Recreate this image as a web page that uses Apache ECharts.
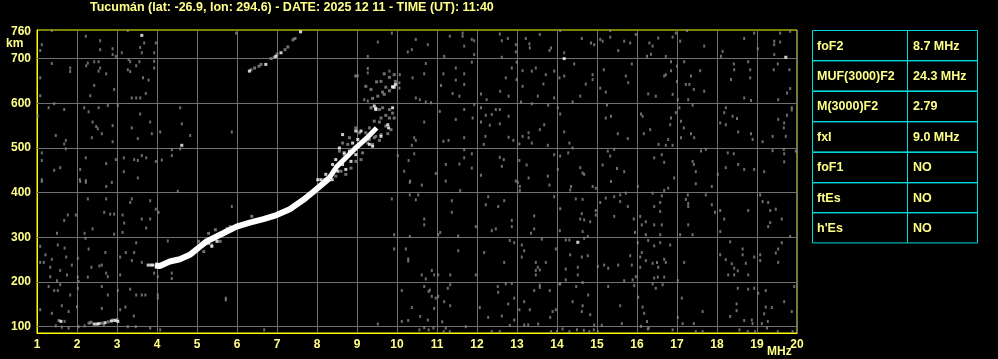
<!DOCTYPE html>
<html><head><meta charset="utf-8">
<script src="https://cdn.jsdelivr.net/npm/echarts@6/dist/echarts.min.js"></script>
<style>html,body{margin:0;padding:0;background:#000}#c{width:998px;height:359px}</style>
</head><body><div id="c"></div>
<script>
const titleText = 'Tucumán (lat: -26.9, lon: 294.6) - DATE: 2025 12 11 - TIME (UT): 11:40';
const yTickLabels = [100, 200, 300, 400, 500, 600, 700, 760];
const kmGridLines = [100, 200, 300, 400, 500, 600, 700];
const tableLabels = ['foF2', 'MUF(3000)F2', 'M(3000)F2', 'fxI', 'foF1', 'ftEs', "h'Es"];
const tableValues = ['8.7 MHz', '24.3 MHz', '2.79', '9.0 MHz', 'NO', 'NO', 'NO'];

// F-layer trace (solid band), then the spread upper part
const mainTrace = [[3.95,237],[4.07,236],[4.32,246],[4.57,251],[4.82,261],[5.07,279],[5.24,291],[5.49,302],[5.74,313],[5.99,324],[6.32,333],[6.66,341],[6.99,350],[7.32,363],[7.66,384],[7.91,402],[8.16,421],[8.3,432]];
const upperTrace = [[8.3,432],[8.49,458],[8.74,480],[8.99,502],[9.24,522],[9.49,545]];

// bright echoes
const traceWhite = [[9.43,594],[9.47,586],[9.89,590],[9.77,552],[9.79,545],[9.6,526],[9.31,508],[9.39,504],[9.02,519],[8.89,511],[9.1,538],[8.97,538],[8.64,530],[8.68,489],[8.56,500],[8.81,493],[8.97,485],[8.85,470],[8.64,463],[8.47,474],[8.39,463],[8.72,452],[8.52,448],[8.31,437],[8.22,441],[9.93,636],[9.96,642],[9.89,637],[9.47,589],
[6.31,672],[6.72,687],[7.1,713],[7.59,760],[6.97,705],
[2.43,106],[2.5,106],[2.55,107],[2.7,109],[2.86,113],[2.95,114],[3.02,112],[1.6,112],
[3.78,238],[3.85,238],[3.9,238],
[3.62,752],[4.62,506],[14.18,700],[19.72,703],[14.52,289],
[5.29,287],[5.37,280],[5.5,291],
[8.02,429],[8.1,429],[8.2,429],[8.3,429],[8.38,429]];

// weaker echoes around the traces
const traceGray = [[8.97,661],[9.22,638],[9.35,631],[9.49,648],[9.6,649],[9.68,666],[9.81,658],[9.93,664],[9.96,649],[9.72,636],[9.64,625],[9.52,616],[9.39,611],[9.68,620],[9.81,628],[9.89,636],[9.35,590],[9.56,586],[9.64,590],[9.81,586],[9.89,578],[9.72,573],[9.6,567],[9.81,567],[9.93,567],[9.43,560],[9.56,558],[9.72,549],[9.85,541],[9.6,530],[9.77,532],[9.31,545],[9.22,534],[9.43,523],[9.56,517],[8.97,545],[9.06,534],[8.81,523],[8.77,508],[8.64,511],[8.93,500],[9.14,489],[9.1,474],[8.97,470],[8.85,455],[8.72,441],[8.6,448],[8.47,437],[8.68,485],[8.56,493],[9.27,511],[9.39,508],[9.47,526],[9.31,519],
[5.04,291],[5.29,309],[5.46,317],[5.62,309],[5.75,320],[5.83,324],[5.17,268],[5.37,283],[5.58,291],[4.96,272],[6.37,347],[4.54,250],[4.87,265],
[6.44,679],[6.6,687],[6.85,700],[7.0,710],[7.27,726],[7.4,742],[7.45,745],[6.35,675],[6.55,683],[6.93,703],[7.2,720],
[2.35,110],[2.62,108],[2.78,111],[2.9,115],[3.0,116],[2.3,108],[1.55,114]];

// background noise
const noise = [[1.37,763],[1.12,731],[1.08,718],[2.22,750],[2.58,740],[2.58,720],[2.89,722],[2.89,709],[3.12,713],[3.27,763],[3.68,735],[3.97,735],[3.58,725],[3.62,713],[3.93,713],[2.97,705],[1.37,689],[1.83,679],[1.83,671],[2.27,690],[2.43,693],[2.54,693],[2.23,684],[2.58,679],[2.54,672],[2.73,666],[3.29,698],[3.33,693],[3.56,693],[3.48,684],[3.27,675],[3.33,671],[3.93,694],[3.93,679],[3.65,657],[3.79,652],[1.08,657],[2.43,640],[2.93,631],[2.33,617],[1.08,617],[3.37,612],[3.48,612],[3.58,612],[3.72,622],[5.98,757],[1.29,590],[1.43,599],[1.68,586],[2.18,590],[2.29,581],[2.54,590],[2.77,595],[3.02,595],[1.02,571],[3.58,576],[2.39,558],[2.48,548],[2.52,543],[2.89,550],[3.37,545],[3.83,558],[2.62,532],[1.47,528],[1.72,517],[1.68,509],[2.37,523],[2.89,514],[3.52,521],[3.87,532],[4.08,536],[4.58,590],[4.62,554],[4.83,528],[5.87,536],[1.12,489],[1.12,472],[1.72,498],[2.22,478],[1.43,450],[1.58,456],[2.08,452],[2.73,465],[3.17,478],[2.97,474],[3.43,474],[3.52,472],[3.62,483],[3.73,478],[3.97,470],[4.12,473],[4.37,496],[4.37,483],[4.58,498],[3.17,447],[3.52,433],[1.12,429],[2.07,429],[2.22,427],
[1.12,425],[2.08,425],[2.22,423],[2.73,414],[4.52,403],[2.27,386],[2.73,386],[3.37,386],[3.33,378],[3.83,382],[1.77,350],[1.68,338],[1.97,350],[2.68,356],[2.83,352],[2.93,352],[3.14,350],[3.18,332],[3.62,341],[3.83,341],[3.97,363],[4.04,356],[2.39,319],[2.19,309],[2.93,307],[3.14,311],[3.73,321],[3.48,288],[1.5,309],[2.21,298],[4.27,292],[1.08,280],[1.52,283],[1.69,276],[2.29,274],[2.71,266],[3.22,266],[3.43,266],[3.08,256],[1.21,261],[1.37,251],[1.08,244],[1.17,244],[1.33,233],[1.73,256],[2.02,253],[2.56,236],[2.62,238],[2.36,233],[1.58,226],[1.87,238],[3.37,248],[3.62,244],[2.73,220],[2.77,212],[3.08,216],[1.33,212],[1.5,203],[2.04,201],[2.02,211],[2.27,211],[1.75,216],[3.93,220],[4.02,212],[4.37,220],[4.37,208],[1.29,190],[1.43,181],[1.58,194],[1.52,181],[1.83,171],[2.02,186],[2.62,190],[2.77,171],[3.02,181],[3.33,184],[3.48,171],[3.62,171],[3.71,171],[4.02,171],[4.02,164],[1.08,138],[1.37,130],[1.62,147],[2.0,145],[1.79,134],[2.62,141],[3.08,138],[3.21,144],[3.42,124],[1.47,102],[1.62,99],[1.69,112],[1.79,97],[2.04,100],[2.19,102],[2.67,104],[3.27,100],[3.47,100],[3.83,97],[4.08,93],[5.72,164],[5.72,160],[5.87,369],[6.68,93],[2.87,423],
[9.87,757],[9.52,737],[10.47,743],[10.77,731],[10.27,715],[10.37,720],[11.32,750],[11.64,757],[11.64,750],[11.87,743],[11.93,740],[11.68,728],[11.93,709],[11.18,705],[9.27,705],[10.72,689],[11.87,692],[11.16,666],[11.47,679],[11.68,666],[10.68,666],[10.39,657],[11.47,652],[11.1,640],[11.68,642],[9.27,678],[9.27,668],[9.81,672],[9.02,662],[10.07,664],[11.39,622],[11.56,616],[10.47,612],[10.57,608],[10.72,603],[10.85,601],[9.27,605],[9.18,608],[10.06,646],[10.06,634],[11.07,582],[11.68,586],[11.47,564],[10.68,558],[11.89,567],[10.43,523],[10.47,517],[10.37,506],[11.68,523],[11.16,515],[11.29,517],[10.02,483],[10.29,472],[10.43,487],[11.68,496],[11.68,478],[11.22,463],[11.56,464],[11.87,487],[11.87,455],[10.97,443],[10.18,448],[10.33,426],[11.22,426],[12.57,755],[12.62,740],[12.77,745],[13.22,745],[13.31,733],[13.32,724],[13.57,754],[12.97,731],[12.97,715],[12.62,703],[12.87,679],[12.99,692],[13.14,673],[13.37,672],[13.47,679],[12.72,657],[12.99,653],[13.14,638],[12.58,627],[12.1,621],[12.24,608],[12.79,616],[13.1,603],[13.37,599],[13.52,616],[13.66,643],[12.47,586],[12.57,586],[12.22,573],[12.32,551],[12.37,575],[12.1,558],[12.57,554],[12.79,571],[12.21,526],[12.17,508],[12.79,524],[12.91,517],[13.06,509],[13.14,526],[13.29,534],[13.29,523],[13.37,511],[13.57,541],[13.68,552],[12.57,479],[12.67,474],[12.62,459],[13.06,472],[13.24,462],[13.29,433],[12.97,426],[12.1,590],[11.93,597],[12.1,439],
[14.08,763],[13.85,724],[13.81,718],[14.18,713],[14.62,745],[14.85,735],[14.93,731],[15.08,743],[15.14,739],[15.33,763],[15.33,748],[15.68,739],[15.83,735],[15.53,718],[15.97,754],[16.31,735],[16.39,728],[16.53,746],[16.89,748],[16.97,757],[17.08,739],[17.25,763],[17.68,728],[18.14,716],[18.1,705],[16.25,705],[16.35,710],[16.72,705],[18.68,745],[18.93,757],[19.02,722],[19.43,739],[19.43,731],[19.58,757],[19.58,737],[19.83,761],[19.43,709],[14.43,688],[13.72,664],[13.93,672],[14.06,657],[14.18,661],[14.89,664],[14.89,653],[14.72,643],[15.17,675],[15.08,634],[15.22,625],[15.72,661],[15.78,646],[15.87,688],[14.58,616],[14.39,603],[13.93,612],[16.68,661],[16.72,664],[16.85,693],[16.85,673],[17.0,683],[17.0,649],[16.47,616],[16.28,621],[16.89,620],[17.18,693],[17.35,661],[17.22,642],[17.31,642],[17.42,631],[17.58,673],[17.68,627],[17.02,608],[17.28,608],[18.42,688],[18.43,675],[18.35,653],[18.78,693],[18.83,675],[18.83,657],[18.68,612],[18.85,606],[19.52,688],[19.42,675],[19.81,675],[19.83,633],[19.75,623],[19.53,608],[13.78,596],[14.02,590],[14.08,576],[14.18,536],[14.31,511],[13.77,506],[14.39,500],[15.25,596],[15.35,571],[15.22,567],[15.52,532],[15.77,521],[16.17,532],[16.1,576],[16.14,571],[16.33,541],[16.85,567],[16.83,552],[16.78,519],[16.54,508],[16.72,506],[16.89,506],[17.06,590],[16.97,579],[17.1,560],[17.17,545],[17.35,532],[17.39,596],[17.43,523],[17.1,523],[18.08,556],[18.22,590],[18.18,579],[18.39,571],[18.5,566],[18.22,552],[18.53,536],[18.85,532],[18.89,519],[19.14,514],[19.39,526],[19.53,564],[19.68,556],[19.67,545],[19.72,526],[19.87,590],[19.87,585],[19.75,573],[13.93,485],[14.08,482],[14.28,489],[14.02,452],[13.77,437],[14.58,456],[14.68,441],[14.64,444],[15.14,462],[15.27,493],[15.33,482],[15.43,497],[15.5,454],[15.68,447],[16.43,478],[16.62,485],[16.68,468],[16.93,433],[17.47,447],[17.39,470],[17.42,463],[17.6,493],[17.72,497],[18.02,441],[18.22,456],[18.27,489],[18.42,487],[18.53,463],[18.68,452],[18.93,452],[19.18,447],[19.39,494],[19.67,497],[19.68,487],[19.68,469],[19.97,493],
[13.81,417],[14.35,414],[14.33,406],[14.89,414],[14.97,410],[15.35,425],[15.72,399],[15.58,395],[15.43,391],[15.22,388],[15.08,378],[15.58,380],[16.02,414],[16.68,405],[16.78,410],[16.62,393],[16.39,399],[16.43,369],[16.58,378],[17.47,420],[17.87,414],[17.27,395],[17.22,385],[17.28,376],[17.28,369],[17.72,395],[17.87,373],[17.95,356],[18.08,360],[18.18,341],[18.08,313],[18.78,360],[19.08,395],[19.14,380],[19.28,378],[19.47,363],[19.33,360],[19.62,341],[19.33,333],[19.28,324],[13.93,391],[14.08,364],[14.47,386],[14.64,385],[14.62,353],[14.58,341],[14.68,339],[14.83,335],[14.97,360],[14.97,350],[14.07,315],[14.64,313],[14.77,302],[14.68,298],[15.43,347],[15.77,369],[15.92,341],[15.95,311],[16.08,347],[16.22,335],[16.12,328],[16.43,328],[16.62,328],[16.58,358],[16.22,306],[16.58,306],[17.08,306],[17.28,328],[17.39,306],[19.83,302],[14.22,294],[14.31,294],[13.97,274],[14.33,261],[14.77,259],[14.62,256],[13.72,244],[14.52,233],[14.22,229],[14.52,216],[14.22,205],[14.06,196],[15.02,235],[15.18,238],[15.28,231],[15.53,238],[15.83,259],[15.87,238],[15.68,203],[15.89,205],[15.97,212],[16.02,288],[16.28,293],[16.43,281],[16.58,288],[16.83,283],[16.12,266],[16.08,256],[16.22,248],[16.39,242],[16.5,244],[16.53,233],[16.68,251],[16.72,244],[16.43,209],[16.52,211],[16.68,211],[16.08,233],[17.18,244],[17.02,203],[18.08,261],[18.22,250],[18.37,241],[18.43,231],[18.52,225],[18.33,290],[18.64,274],[18.72,242],[18.64,261],[18.93,256],[19.08,261],[19.08,248],[19.47,265],[19.53,274],[19.62,288],[19.53,244],[18.28,216],[18.43,216],[18.78,216],[13.82,181],[14.08,196],[14.48,190],[14.78,171],[14.64,199],[15.28,190],[15.93,192],[16.03,166],[16.39,196],[16.47,186],[16.64,194],[17.12,164],[18.52,186],[18.78,184],[18.93,186],[19.03,175],[19.22,181],[19.93,190],[14.39,156],[14.64,147],[13.89,134],[13.83,121],[13.97,138],[14.62,134],[14.83,127],[14.93,104],[15.12,103],[15.58,147],[15.62,107],[16.14,144],[16.18,130],[16.25,112],[16.1,101],[16.29,97],[17.14,107],[17.02,121],[17.42,107],[17.64,134],[18.33,123],[18.49,151],[18.49,136],[18.68,114],[18.87,115],[18.89,107],[19.18,129],[19.22,144],[19.37,143],[19.27,112],[19.12,107],[19.68,156],[19.87,134],[13.85,89],[14.0,89],[14.14,95],[14.31,89],[14.5,93],[14.67,92],[14.81,89],[14.92,93],[15.02,89],[16.27,95],[16.89,93],[17.47,89],[17.64,89],[18.56,93],[18.77,89],[18.95,89],[19.25,97],[19.52,89],[19.89,89],
[10.32,423],[10.62,417],[10.32,395],[10.53,395],[10.47,384],[9.87,386],[11.37,382],[11.37,356],[11.58,405],[12.28,391],[12.22,373],[12.53,369],[12.68,382],[13.02,423],[13.07,414],[13.07,405],[10.68,341],[10.68,328],[9.93,306],[10.32,302],[11.03,306],[11.08,311],[11.53,303],[11.97,324],[12.37,315],[12.47,319],[12.87,338],[12.87,324],[13.43,348],[13.43,319],[13.35,309],[12.82,293],[12.93,288],[13.12,283],[13.18,270],[13.12,256],[13.47,244],[13.52,233],[13.47,226],[13.57,227],[13.47,216],[13.62,296],[9.93,274],[10.22,274],[10.28,252],[10.28,247],[11.53,270],[12.18,266],[12.68,244],[10.62,216],[10.72,207],[10.87,226],[10.93,216],[11.03,216],[11.33,216],[11.97,216],[10.68,190],[10.12,181],[10.79,179],[10.82,182],[10.87,168],[10.97,164],[11.03,168],[11.18,156],[11.33,194],[11.27,186],[11.33,147],[12.52,190],[12.53,177],[12.72,196],[12.87,197],[12.93,164],[12.78,151],[13.18,156],[13.32,138],[13.43,181],[13.57,193],[13.57,188],[10.37,143],[10.58,123],[10.28,114],[10.12,112],[10.77,115],[10.93,141],[11.13,111],[10.68,98],[10.79,93],[10.91,97],[11.22,97],[11.72,100],[12.07,143],[12.28,121],[12.62,124],[12.93,115],[12.82,103],[13.06,138],[13.18,104],[13.28,104],[13.53,106],[11.32,89],[9.52,106],[12.37,89],[12.57,89],[11.17,89],[10.56,93]];

const YEL = '#ffff88';
const FONT = 'Liberation Sans';

const tableEls = [];
const tx0 = 812, tx1 = 907, tx2 = 977, tTop = 30, rowH = 30.4;
tableLabels.forEach((lab, i) => {
  const y = tTop + i * rowH;
  tableEls.push({type:'rect', shape:{x:tx0+0.5, y:Math.round(y)+0.5, width:tx1-tx0, height:rowH}, style:{fill:'none', stroke:'#00dada', lineWidth:1}, silent:true});
  tableEls.push({type:'rect', shape:{x:tx1+0.5, y:Math.round(y)+0.5, width:tx2-tx1, height:rowH}, style:{fill:'none', stroke:'#00dada', lineWidth:1}, silent:true});
  tableEls.push({type:'text', x:tx0+5, y:y+rowH/2+1, style:{text:lab, fill:YEL, font:'bold 12.5px ' + FONT, textVerticalAlign:'middle', verticalAlign:'middle'}, silent:true});
  tableEls.push({type:'text', x:tx1+6, y:y+rowH/2+1, style:{text:tableValues[i], fill:YEL, font:'bold 12.5px ' + FONT, textVerticalAlign:'middle', verticalAlign:'middle'}, silent:true});
});
tableEls.push({type:'text', x:6, y:44, style:{text:'km', fill:YEL, font:'bold 12px ' + FONT, verticalAlign:'middle', textVerticalAlign:'middle'}, silent:true});
tableEls.push({type:'text', x:767, y:352, style:{text:'MHz', fill:YEL, font:'bold 12px ' + FONT, verticalAlign:'middle', textVerticalAlign:'middle'}, silent:true});

const chart = echarts.init(document.getElementById('c'), null, {renderer:'canvas'});
chart.setOption({
  backgroundColor: '#000',
  animation: false,
  title: {text: titleText, left: 90, top: 0, padding: [1, 0, 0, 0], textStyle: {color: YEL, fontSize: 12.5, fontWeight: 'bold', fontFamily: FONT}},
  grid: {left: 37, right: 201, top: 30, bottom: 26, show: true, borderColor: '#ffff00', borderWidth: 1, backgroundColor: 'transparent'},
  xAxis: {type: 'value', min: 1, max: 20, interval: 1,
    axisLine: {show: true, lineStyle: {color: '#ffff00'}}, axisTick: {show: false},
    axisLabel: {color: YEL, fontSize: 12, fontWeight: 'bold', fontFamily: FONT, margin: 6},
    splitLine: {show: true, lineStyle: {color: '#707070', width: 1}}},
  yAxis: {type: 'value', min: 86, max: 764,
    axisLine: {show: true, lineStyle: {color: '#ffff00'}}, axisTick: {show: false},
    axisLabel: {customValues: yTickLabels, color: YEL, fontSize: 12, fontWeight: 'bold', fontFamily: FONT, margin: 6},
    splitLine: {show: false}},
  graphic: tableEls,
  series: [
    {type: 'scatter', name: 'noise', data: noise, symbol: 'rect', symbolSize: [2, 3], itemStyle: {color: '#888888'}, silent: true, z: 3,
      markLine: {silent: true, symbol: 'none', label: {show: false}, lineStyle: {color: '#707070', width: 1, type: 'solid'}, z: 1,
        data: kmGridLines.map(v => ({yAxis: v}))}},
    {type: 'scatter', name: 'traceGray', data: traceGray, symbol: 'rect', symbolSize: [3, 3], itemStyle: {color: '#8c8c8c'}, silent: true, z: 4},
    {type: 'line', name: 'mainTrace', data: mainTrace, showSymbol: false, lineStyle: {color: '#ffffff', width: 6, cap: 'butt', join: 'bevel'}, silent: true, z: 5},
    {type: 'line', name: 'upperTrace', data: upperTrace, showSymbol: false, lineStyle: {color: '#ffffff', width: 5, cap: 'butt', join: 'bevel'}, silent: true, z: 5},
    {type: 'scatter', name: 'traceWhite', data: traceWhite, symbol: 'rect', symbolSize: [3, 3], itemStyle: {color: '#ffffff'}, silent: true, z: 6}
  ]
});
</script></body></html>
